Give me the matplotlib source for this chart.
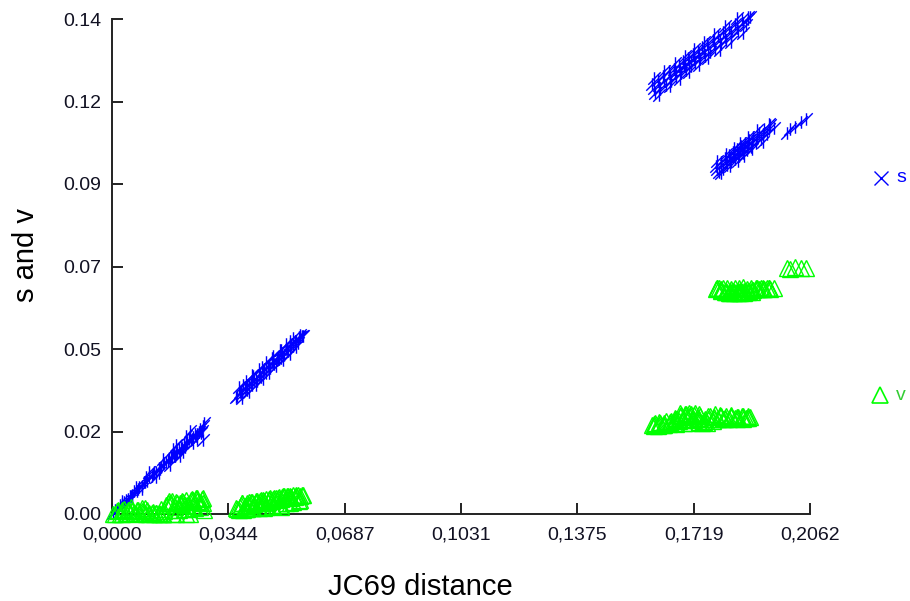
import numpy as np
import matplotlib.pyplot as plt
from matplotlib.path import Path

plt.rcParams['font.family'] = ['Liberation Sans', 'DejaVu Sans']

# --- pairwise data: JC69 distance, transitions (s), transversions (v) ---
# group 1: close pairs
dist_1 = [0.0003, 0.0010, 0.0018, 0.0025, 0.0031, 0.0040, 0.0046, 0.0052, 0.0060, 0.0066,
          0.0073, 0.0080, 0.0088, 0.0095, 0.0102, 0.0110, 0.0117, 0.0124, 0.0131, 0.0139,
          0.0146, 0.0153, 0.0160, 0.0168, 0.0175, 0.0182, 0.0190, 0.0197, 0.0205, 0.0212,
          0.0220, 0.0228, 0.0236, 0.0244, 0.0252, 0.0260, 0.0150, 0.0185, 0.0215, 0.0240,
          0.0272, 0.0268, 0.0262,
          0.0014, 0.0035, 0.0056, 0.0077, 0.0098, 0.0120, 0.0142, 0.0164, 0.0178, 0.0193,
          0.0208, 0.0222, 0.0232, 0.0248, 0.0256, 0.0265, 0.0270,
          0.0030, 0.0050, 0.0070, 0.0090, 0.0110, 0.0130, 0.0150, 0.0170, 0.0190, 0.0210,
          0.0230, 0.0250, 0.0060, 0.0100, 0.0140, 0.0180, 0.0200, 0.0220, 0.0240]
s_1 = [0.0003, 0.0010, 0.0015, 0.0025, 0.0027, 0.0039, 0.0042, 0.0050, 0.0054, 0.0064,
       0.0066, 0.0077, 0.0080, 0.0091, 0.0093, 0.0104, 0.0107, 0.0118, 0.0119, 0.0131,
       0.0133, 0.0145, 0.0146, 0.0158, 0.0160, 0.0171, 0.0172, 0.0185, 0.0186, 0.0199,
       0.0199, 0.0212, 0.0213, 0.0225, 0.0227, 0.0240, 0.0142, 0.0165, 0.0190, 0.0218,
       0.0258, 0.0210, 0.0228,
       0.0013, 0.0033, 0.0052, 0.0072, 0.0090, 0.0112, 0.0128, 0.0150, 0.0162, 0.0176,
       0.0188, 0.0204, 0.0208, 0.0220, 0.0232, 0.0236, 0.0250,
       0.0038, 0.0037, 0.0077, 0.0072, 0.0118, 0.0104, 0.0156, 0.0140, 0.0196, 0.0176,
       0.0234, 0.0212, 0.0048, 0.0105, 0.0115, 0.0184, 0.0165, 0.0222, 0.0200]
v_1 = [0.0000, 0.0000, 0.0011, 0.0000, 0.0010, 0.0002, 0.0011, 0.0003, 0.0009, 0.0002,
       0.0011, 0.0003, 0.0008, 0.0004, 0.0010, 0.0002, 0.0004, 0.0000, 0.0002, 0.0000,
       0.0013, 0.0008, 0.0025, 0.0037, 0.0030, 0.0012, 0.0035, 0.0010, 0.0028, 0.0013,
       0.0040, 0.0015, 0.0042, 0.0018, 0.0045, 0.0020, 0.0000, 0.0020, 0.0025, 0.0022,
       0.0012, 0.0045, 0.0030,
       0.0008, 0.0015, 0.0020, 0.0012, 0.0018, 0.0006, 0.0000, 0.0032, 0.0036, 0.0030,
       0.0038, 0.0026, 0.0040, 0.0044, 0.0035, 0.0042, 0.0030,
       0.0000, 0.0012, 0.0000, 0.0016, 0.0000, 0.0004, 0.0000, 0.0030, 0.0000, 0.0034,
       0.0000, 0.0038, 0.0010, 0.0000, 0.0002, 0.0000, 0.0032, 0.0000, 0.0040]

# group 2
dist_2 = [0.0370, 0.0378, 0.0385, 0.0392, 0.0400, 0.0406, 0.0413, 0.0420, 0.0427, 0.0433,
          0.0440, 0.0447, 0.0454, 0.0460, 0.0467, 0.0474, 0.0480, 0.0487, 0.0494, 0.0500,
          0.0507, 0.0514, 0.0520, 0.0527, 0.0534, 0.0540, 0.0548, 0.0556, 0.0565, 0.0400,
          0.0450, 0.0500,
          0.0365, 0.0382, 0.0396, 0.0410, 0.0424, 0.0437, 0.0450, 0.0463, 0.0477, 0.0490,
          0.0503, 0.0517, 0.0530, 0.0544, 0.0560, 0.0388, 0.0416, 0.0444, 0.0472, 0.0498,
          0.0525, 0.0552,
          0.0375, 0.0395, 0.0415, 0.0435, 0.0455, 0.0475, 0.0495, 0.0515, 0.0535, 0.0555,
          0.0385, 0.0405, 0.0425, 0.0445, 0.0465, 0.0485, 0.0505, 0.0525, 0.0545]
s_2 = [0.0335, 0.0345, 0.0338, 0.0355, 0.0352, 0.0368, 0.0365, 0.0380, 0.0375, 0.0392,
       0.0388, 0.0405, 0.0400, 0.0418, 0.0412, 0.0430, 0.0425, 0.0442, 0.0437, 0.0455,
       0.0450, 0.0468, 0.0462, 0.0480, 0.0474, 0.0490, 0.0485, 0.0500, 0.0503, 0.0365,
       0.0410, 0.0440,
       0.0331, 0.0346, 0.0358, 0.0371, 0.0383, 0.0395, 0.0407, 0.0418, 0.0431, 0.0442,
       0.0454, 0.0466, 0.0478, 0.0490, 0.0504, 0.0366, 0.0391, 0.0416, 0.0441, 0.0464,
       0.0488, 0.0500,
       0.0358, 0.0376, 0.0393, 0.0411, 0.0429, 0.0447, 0.0465, 0.0482, 0.0498, 0.0505,
       0.0329, 0.0346, 0.0364, 0.0382, 0.0400, 0.0418, 0.0435, 0.0453, 0.0471]
v_2 = [0.0015, 0.0020, 0.0030, 0.0022, 0.0032, 0.0025, 0.0035, 0.0028, 0.0038, 0.0030,
       0.0040, 0.0032, 0.0042, 0.0035, 0.0045, 0.0036, 0.0046, 0.0040, 0.0048, 0.0042,
       0.0050, 0.0044, 0.0052, 0.0045, 0.0054, 0.0048, 0.0055, 0.0050, 0.0054, 0.0014,
       0.0018, 0.0020,
       0.0018, 0.0026, 0.0024, 0.0034, 0.0030, 0.0036, 0.0038, 0.0040, 0.0042, 0.0044,
       0.0047, 0.0050, 0.0049, 0.0052, 0.0053, 0.0012, 0.0016, 0.0020, 0.0024, 0.0026,
       0.0030, 0.0036,
       0.0012, 0.0014, 0.0016, 0.0018, 0.0020, 0.0024, 0.0026, 0.0030, 0.0034, 0.0040,
       0.0030, 0.0034, 0.0036, 0.0040, 0.0042, 0.0046, 0.0050, 0.0052, 0.0054]

# group 3
dist_3 = [0.1595, 0.1603, 0.1612, 0.1620, 0.1628, 0.1636, 0.1645, 0.1652, 0.1660, 0.1667,
          0.1674, 0.1681, 0.1688, 0.1695, 0.1702, 0.1709, 0.1716, 0.1723, 0.1730, 0.1737,
          0.1744, 0.1751, 0.1758, 0.1766, 0.1774, 0.1782, 0.1790, 0.1798, 0.1806, 0.1814,
          0.1822, 0.1830, 0.1840, 0.1850, 0.1860, 0.1872, 0.1884, 0.1665, 0.1690, 0.1710,
          0.1735,
          0.1600, 0.1615, 0.1632, 0.1648, 0.1663, 0.1678, 0.1692, 0.1706, 0.1720, 0.1734,
          0.1748, 0.1762, 0.1778, 0.1795, 0.1812, 0.1828, 0.1845, 0.1865, 0.1880,
          0.1600, 0.1615, 0.1632, 0.1648, 0.1663, 0.1678, 0.1692, 0.1706, 0.1720, 0.1734,
          0.1748, 0.1762, 0.1778, 0.1795, 0.1812, 0.1828, 0.1845, 0.1865, 0.1880]
s_3 = [0.1215, 0.1190, 0.1228, 0.1202, 0.1240, 0.1213, 0.1252, 0.1225, 0.1260, 0.1236,
       0.1270, 0.1246, 0.1280, 0.1256, 0.1290, 0.1266, 0.1300, 0.1276, 0.1310, 0.1286,
       0.1320, 0.1296, 0.1330, 0.1306, 0.1340, 0.1316, 0.1352, 0.1328, 0.1362, 0.1340,
       0.1374, 0.1350, 0.1386, 0.1365, 0.1400, 0.1382, 0.1405, 0.1251, 0.1267, 0.1282,
       0.1299,
       0.1204, 0.1214, 0.1226, 0.1238, 0.1248, 0.1259, 0.1268, 0.1278, 0.1288, 0.1298,
       0.1308, 0.1317, 0.1329, 0.1340, 0.1352, 0.1364, 0.1375, 0.1389, 0.1400,
       0.1232, 0.1186, 0.1254, 0.1210, 0.1276, 0.1231, 0.1296, 0.1250, 0.1316, 0.1270,
       0.1336, 0.1289, 0.1357, 0.1312, 0.1380, 0.1336, 0.1403, 0.1361, 0.1405]
v_3 = [0.0252, 0.0256, 0.0250, 0.0258, 0.0253, 0.0262, 0.0255, 0.0264, 0.0257, 0.0270,
       0.0262, 0.0280, 0.0266, 0.0284, 0.0270, 0.0282, 0.0268, 0.0285, 0.0272, 0.0278,
       0.0258, 0.0270, 0.0256, 0.0276, 0.0262, 0.0282, 0.0270, 0.0278, 0.0268, 0.0276,
       0.0270, 0.0280, 0.0272, 0.0274, 0.0276, 0.0272, 0.0275, 0.0254, 0.0256, 0.0258,
       0.0260,
       0.0254, 0.0252, 0.0258, 0.0260, 0.0266, 0.0278, 0.0283, 0.0276, 0.0280, 0.0270,
       0.0262, 0.0268, 0.0274, 0.0276, 0.0272, 0.0278, 0.0274, 0.0270, 0.0276,
       0.0250, 0.0260, 0.0252, 0.0256, 0.0272, 0.0285, 0.0274, 0.0286, 0.0266, 0.0284,
       0.0260, 0.0276, 0.0270, 0.0280, 0.0268, 0.0274, 0.0270, 0.0278, 0.0272]

# group 4
dist_4 = [0.1785, 0.1792, 0.1798, 0.1805, 0.1811, 0.1817, 0.1823, 0.1829, 0.1835, 0.1841,
          0.1847, 0.1853, 0.1859, 0.1865, 0.1871, 0.1877, 0.1883, 0.1889, 0.1895, 0.1902,
          0.1910, 0.1918, 0.1926, 0.1935, 0.1945, 0.1955, 0.1838, 0.1850, 0.1862,
          0.1788, 0.1800, 0.1814, 0.1826, 0.1838, 0.1848, 0.1856, 0.1868, 0.1880, 0.1892,
          0.1906, 0.1922, 0.1940,
          0.1788, 0.1800, 0.1814, 0.1826, 0.1838, 0.1848, 0.1856, 0.1868, 0.1880, 0.1892,
          0.1906, 0.1922, 0.1940]
s_4 = [0.0985, 0.0968, 0.0996, 0.0977, 0.1006, 0.0986, 0.1015, 0.0995, 0.1024, 0.1003,
       0.1032, 0.1012, 0.1041, 0.1021, 0.1050, 0.1030, 0.1058, 0.1039, 0.1066, 0.1049,
       0.1077, 0.1061, 0.1088, 0.1074, 0.1100, 0.1092, 0.1013, 0.1022, 0.1031,
       0.0977, 0.0986, 0.0996, 0.1005, 0.1013, 0.1021, 0.1026, 0.1035, 0.1044, 0.1053,
       0.1063, 0.1075, 0.1088,
       0.0999, 0.0964, 0.1018, 0.0983, 0.1035, 0.0999, 0.1048, 0.1013, 0.1066, 0.1031,
       0.1085, 0.1053, 0.1104]
v_4 = [0.0636, 0.0640, 0.0632, 0.0638, 0.0628, 0.0640, 0.0626, 0.0636, 0.0630, 0.0640,
       0.0627, 0.0638, 0.0630, 0.0641, 0.0628, 0.0636, 0.0630, 0.0640, 0.0634, 0.0638,
       0.0636, 0.0640, 0.0636, 0.0638, 0.0636, 0.0640, 0.0627, 0.0629, 0.0628,
       0.0638, 0.0634, 0.0630, 0.0626, 0.0628, 0.0624, 0.0630, 0.0626, 0.0632, 0.0628,
       0.0636, 0.0640, 0.0638,
       0.0640, 0.0636, 0.0628, 0.0632, 0.0626, 0.0630, 0.0624, 0.0632, 0.0628, 0.0634,
       0.0638, 0.0636, 0.0640]

# group 5
dist_5 = [0.1994, 0.2004, 0.2018, 0.2034, 0.2050]
s_5 = [0.1078, 0.1090, 0.1094, 0.1108, 0.1118]
v_5 = [0.0696, 0.0694, 0.0698, 0.0695, 0.0697]

dist = dist_1 + dist_2 + dist_3 + dist_4 + dist_5
s_vals = s_1 + s_2 + s_3 + s_4 + s_5
v_vals = v_1 + v_2 + v_3 + v_4 + v_5

x_max = 0.2062
y_max = 0.14
x_tick_labels = ['0,0000', '0,0344', '0,0687', '0,1031', '0,1375', '0,1719', '0,2062']
y_tick_labels = ['0.00', '0.02', '0.05', '0.07', '0.09', '0.12', '0.14']
x_ticks = np.linspace(0, x_max, len(x_tick_labels))
y_ticks = np.linspace(0, y_max, len(y_tick_labels))

BLUE = '#0000ff'
GREEN = '#00ff00'

# vertical bar + rising diagonal, like the program's s marker
s_marker = Path([(0, -1), (0, 1), (-1, -1), (1, 1)],
                [Path.MOVETO, Path.LINETO, Path.MOVETO, Path.LINETO])

fig = plt.figure(figsize=(9.1, 6.01), dpi=100)
ax = fig.add_axes([112 / 910, 87 / 601, 698 / 910, 495 / 601])

ax.plot(dist, s_vals, linestyle='none', marker=s_marker, ms=9, mew=1.0,
        color=BLUE, clip_on=False, zorder=3)
ax.plot(dist, v_vals, linestyle='none', marker='^', ms=11, mew=1.0,
        mfc='none', mec=GREEN, clip_on=False, zorder=4)

ax.set_xlim(0, x_max)
ax.set_ylim(0, y_max)
ax.set_xticks(x_ticks)
ax.set_yticks(y_ticks)
ax.set_xticklabels(x_tick_labels)
ax.set_yticklabels(y_tick_labels)

for side in ['top', 'right']:
    ax.spines[side].set_visible(False)
for side in ['left', 'bottom']:
    ax.spines[side].set_linewidth(1.4)
    ax.spines[side].set_color('#222222')

ax.tick_params(axis='both', direction='in', length=8, width=1.4, color='#222222',
               labelsize=14, labelcolor='#111122')
ax.tick_params(axis='x', pad=9)
ax.tick_params(axis='y', pad=8)

fig.text(420 / 910, 1 - 595 / 601, 'JC69 distance', fontsize=21,
         ha='center', va='baseline')
fig.text(26 / 910, 1 - 255 / 601, 's and v', fontsize=21, rotation=90,
         ha='center', va='center')

# legend entries placed outside the plot on the right
ax.plot([881 / 910], [1 - 178 / 601], marker='x', ms=10, mew=1.0, color=BLUE,
        linestyle='none', transform=fig.transFigure, clip_on=False)
fig.text(896 / 910, 1 - 178 / 601, 's', fontsize=14, color=BLUE, ha='left', va='center')
ax.plot([880 / 910], [1 - 395 / 601], marker='^', ms=12, mew=1.2, mfc='none',
        mec=GREEN, linestyle='none', transform=fig.transFigure, clip_on=False)
fig.text(896 / 910, 1 - 395 / 601, 'v', fontsize=14, color='#33cc33', ha='left', va='center')

fig.savefig('out.png', dpi=100)
